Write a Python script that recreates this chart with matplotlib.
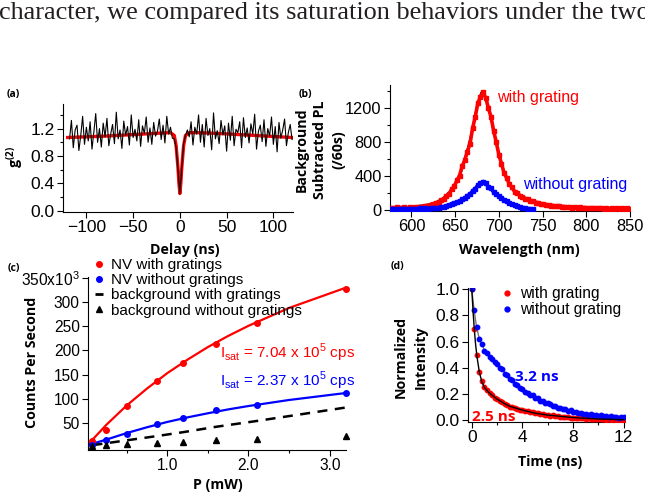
import numpy as np
import matplotlib
matplotlib.use("Agg")
import matplotlib.pyplot as plt
from matplotlib.lines import Line2D

# ---------- (a) g2 ----------
delay = np.arange(-118, 121, 2)
g2_left = [1.05, 1.32, 0.92, 1.18, 1.25, 0.88, 1.10, 1.38, 0.97, 1.22,
           1.02, 1.30, 0.90, 1.15, 1.42, 1.00, 1.20, 0.93, 1.28, 1.08,
           1.35, 0.95, 1.12, 1.26, 0.98, 1.44, 1.05, 1.18, 0.91, 1.31,
           1.10, 1.23, 0.96, 1.40, 1.07, 1.19, 1.02, 1.33, 0.94, 1.24,
           1.13, 1.37, 1.00, 1.21, 0.97, 1.29, 1.09, 1.16, 1.34, 1.04,
           1.25, 0.99, 1.38, 1.12, 1.22, 1.06]
g2_mid = [1.05, 0.92, 0.60, 0.25, 0.62, 0.98, 1.10]
g2_right = [1.18, 1.08, 1.30, 0.96, 1.22, 1.12, 1.40, 1.00, 1.26, 0.93,
            1.35, 1.10, 1.20, 0.89, 1.43, 1.05, 1.17, 0.98, 1.32, 1.11,
            1.24, 0.87, 1.28, 1.03, 1.38, 0.95, 1.19, 1.14, 1.30, 0.92,
            1.36, 1.07, 1.21, 0.99, 1.27, 1.12, 1.41, 0.90, 1.16, 1.25,
            1.01, 1.33, 0.94, 1.20, 1.09, 1.37, 0.97, 1.23, 0.86, 1.29,
            1.06, 1.18, 1.34, 0.95, 1.14, 1.26, 1.04]
g2 = g2_left + g2_mid + g2_right

fit_delay = [-120, -100, -80, -60, -40, -20, -10, -6, -4, -2, -1, 0,
             1, 2, 4, 6, 10, 20, 40, 60, 80, 100, 120]
fit_g2 = [1.07, 1.08, 1.09, 1.105, 1.12, 1.135, 1.14, 1.10, 0.95, 0.62, 0.40, 0.25,
          0.40, 0.62, 0.95, 1.10, 1.14, 1.14, 1.13, 1.115, 1.10, 1.085, 1.07]

# ---------- (b) spectra ----------
wl_red = np.arange(577, 851, 3)
pl_red = [28, 22, 31, 19, 27, 33, 21, 30, 26, 35,
          30, 41, 40, 52, 50, 64, 69, 86, 93, 118,
          130, 162, 190, 245, 280, 350, 405, 515, 588, 690,
          780, 965, 1100, 1262, 1335, 1392, 1322, 1205, 1100, 936,
          802, 652, 548, 436, 376, 304, 266, 216, 199, 168,
          156, 131, 126, 106, 103, 88, 86, 71, 72, 60,
          59, 49, 51, 42, 45, 36, 40, 32, 36, 28,
          33, 26, 31, 24, 29, 22, 27, 20, 25, 18,
          24, 17, 22, 16, 21, 15, 20, 14, 19, 13,
          18, 14]
wl_blue = np.arange(577, 740, 3)
pl_blue = [15, 9, 14, 8, 13, 16, 10, 15, 11, 17,
           13, 18, 14, 20, 16, 22, 19, 26, 24, 35,
           38, 51, 55, 74, 79, 97, 102, 124, 140, 170,
           185, 226, 250, 296, 318, 336, 315, 276, 254, 211,
           192, 160, 147, 118, 106, 82, 73, 53, 47, 33,
           29, 18, 16, 9, 10]
wl_fit_red = np.arange(575, 851, 5)
pl_fit_red = [24, 26, 28, 31, 34, 38, 43, 49, 56, 65,
              80, 100, 128, 175, 222, 295, 395, 560, 740, 960,
              1220, 1385, 1330, 1140, 885, 665, 480, 360, 262, 208,
              175, 145, 122, 104, 90, 78, 70, 62, 55, 50,
              46, 42, 39, 36, 33, 31, 29, 27, 25, 24,
              23, 22, 21, 20, 19, 18]
wl_fit_blue = np.arange(595, 741, 5)
pl_fit_blue = [12, 13, 15, 17, 19, 22, 26, 31, 38, 48,
               62, 80, 103, 132, 170, 215, 268, 322, 312, 262,
               208, 163, 126, 96, 72, 53, 38, 26, 17, 11]

# ---------- (c) saturation ----------
power = [0.08, 0.25, 0.5, 0.88, 1.2, 1.6, 2.1, 3.2]
nv_grating = [12, 36, 85, 136, 175, 213, 256, 327]
nv_no_grating = [4, 14, 27, 47, 61, 76, 87, 112]
bg_grating = [4, 8, 14, 23, 31, 42, 54, 82]
bg_no_grating = [2.5, 4, 6, 8.5, 11, 15.5, 17.5, 22.5]
fit_power = [0.03, 0.1, 0.25, 0.5, 0.75, 1.0, 1.25, 1.5, 1.75, 2.0, 2.5, 3.2]
nv_grating_fit = [8, 19, 46, 86, 121, 153, 181, 207, 230, 251, 288, 330]
nv_no_grating_fit = [5, 8, 15.5, 29, 41, 52, 61.5, 70, 78, 85, 97.5, 112]

# ---------- (d) lifetime ----------
t = np.arange(0, 12.01, 0.2)
decay_blue = [1.00, 0.84, 0.71, 0.62, 0.58, 0.53, 0.515, 0.485, 0.47, 0.445,
              0.43, 0.40, 0.39, 0.355, 0.345, 0.315, 0.305, 0.275, 0.27, 0.245,
              0.24, 0.215, 0.21, 0.19, 0.19, 0.168, 0.165, 0.148, 0.147, 0.13,
              0.132, 0.125, 0.108, 0.108, 0.094, 0.095, 0.082, 0.083, 0.072, 0.073,
              0.062, 0.064, 0.054, 0.056, 0.047, 0.05, 0.041, 0.044, 0.036, 0.04,
              0.032, 0.036, 0.028, 0.032, 0.024, 0.029, 0.021, 0.026, 0.019, 0.024,
              0.02]
decay_red = [1.00, 0.70, 0.50, 0.37, 0.295, 0.255, 0.232, 0.208, 0.192, 0.172,
             0.162, 0.143, 0.135, 0.12, 0.115, 0.103, 0.099, 0.09, 0.087, 0.078,
             0.076, 0.068, 0.067, 0.06, 0.058, 0.051, 0.051, 0.045, 0.045, 0.039,
             0.039, 0.034, 0.035, 0.029, 0.03, 0.025, 0.026, 0.021, 0.022, 0.018,
             0.019, 0.015, 0.016, 0.012, 0.014, 0.01, 0.012, 0.008, 0.01, 0.006,
             0.008, 0.005, 0.007, 0.004, 0.006, 0.003, 0.005, 0.003, 0.004, 0.002,
             0.003]
fit_t = [0, 0.1, 0.2, 0.3, 0.4, 0.6, 0.8, 1.0, 1.3, 1.6, 2.0, 2.5, 3.0, 4.0, 5.0, 6.0, 8.0, 10.0, 12.0]
decay_red_fit = [1.0, 0.83, 0.69, 0.58, 0.49, 0.365, 0.29, 0.25, 0.215, 0.19,
                 0.16, 0.13, 0.105, 0.076, 0.052, 0.038, 0.019, 0.008, 0.003]
decay_blue_fit = [1.0, 0.91, 0.83, 0.76, 0.70, 0.62, 0.575, 0.535, 0.50, 0.47,
                  0.43, 0.375, 0.32, 0.24, 0.172, 0.13, 0.065, 0.034, 0.02]

RED = "#ff0000"
BLUE = "#0000ff"

plt.rcParams["font.family"] = ["Liberation Sans", "DejaVu Sans"]
plt.rcParams["font.size"] = 11
plt.rcParams["axes.linewidth"] = 0.8
plt.rcParams["mathtext.fontset"] = "custom"
plt.rcParams["mathtext.rm"] = "Liberation Sans"

LAB = dict(family="Open Sans", weight="bold", size=10.2)
PANEL = dict(family="Open Sans", weight="bold", size=7.5)

W, H = 645, 493
fig = plt.figure(figsize=(W / 100, H / 100), dpi=100)


def axes_px(l, t_, r, b):
    return fig.add_axes([l / W, 1 - b / H, (r - l) / W, (b - t_) / H])


def ftext(x, y, s, **kw):
    fig.text(x / W, 1 - y / H, s, ha=kw.pop("ha", "center"), va=kw.pop("va", "center"), **kw)


def style(ax, size):
    ax.spines["top"].set_visible(False)
    ax.spines["right"].set_visible(False)
    ax.tick_params(which="major", direction="out", length=4, width=0.8, pad=2, labelsize=size)
    ax.tick_params(which="minor", direction="out", length=2.5, width=0.8)


# top text line (cut by the right edge, as in the page scan)
fig.text(-0.001, 1 - 19 / H, "character, we compared its saturation behaviors under the two",
         family="Liberation Serif", size=18.9, color="#231f20", ha="left", va="baseline")

# (a)
ax = axes_px(63, 104, 293, 212)
style(ax, 12.5)
ax.plot(fit_delay, fit_g2, color=RED, lw=2.4, zorder=2)
ax.plot(delay, g2, color="black", lw=0.8, zorder=3)
ax.set_xlim(-125, 121)
ax.set_ylim(-0.02, 1.56)
ax.set_xticks([-100, -50, 0, 50, 100])
ax.set_yticks([0.0, 0.4, 0.8, 1.2])
ax.set_yticks([0.2, 0.6, 1.0, 1.4], minor=True)
ax.yaxis.set_major_formatter(matplotlib.ticker.FormatStrFormatter("%.1f"))
ftext(185, 250, "Delay (ns)", **LAB)
ftext(15, 157, r"g$^\mathregular{(2)}$", rotation=90, **LAB)
ftext(13, 95, "(a)", **PANEL)

# (b)
ax = axes_px(390, 85, 630, 211)
style(ax, 11.8)
ax.plot(wl_fit_red, pl_fit_red, color="black", lw=1.6, zorder=2)
ax.plot(wl_fit_blue, pl_fit_blue, color="#888888", lw=1.6, zorder=2)
ax.plot(wl_red, pl_red, color=RED, lw=2.6, marker="s", ms=3.0, zorder=3)
ax.plot(wl_blue, pl_blue, color=BLUE, lw=2.6, marker="s", ms=3.0, zorder=4)
ax.set_xlim(575.5, 850)
ax.set_ylim(-12, 1475)
ax.set_xticks([600, 650, 700, 750, 800, 850])
ax.set_yticks([0, 400, 800, 1200])
ax.set_yticks([200, 600, 1000, 1400], minor=True)
ax.text(697.5, 1333, "with grating", color=RED, size=11.5, ha="left", va="center")
ax.text(728, 295, "without grating", color=BLUE, size=11.5, ha="left", va="center")
ftext(519, 250, "Wavelength (nm)", **LAB)
ftext(320, 150, "Background\nSubtracted PL\n(/60s)", rotation=90, linespacing=1.4, **LAB)
ftext(305, 95, "(b)", **PANEL)

# (c)
ax = axes_px(88, 277, 346, 450)
style(ax, 11.2)
ax.plot(fit_power, nv_grating_fit, color=RED, lw=1.6, zorder=2)
ax.plot(fit_power, nv_no_grating_fit, color=BLUE, lw=1.6, zorder=2)
ax.plot(power, bg_grating, color="black", lw=1.8, ls=(0, (4, 3)), zorder=2)
ax.plot(power, nv_grating, "o", color=RED, ms=4, zorder=3, clip_on=False)
ax.plot(power, nv_no_grating, "o", color=BLUE, ms=4, zorder=3, clip_on=False)
ax.plot(power, bg_no_grating, "^", color="black", ms=4.5, zorder=3, clip_on=False)
ax.set_xlim(0.025, 3.2)
ax.set_ylim(-6, 352)
ax.set_xticks([1.0, 2.0, 3.0])
ax.set_xticks([0.5, 1.5, 2.5], minor=True)
ax.xaxis.set_major_formatter(matplotlib.ticker.FormatStrFormatter("%.1f"))
ax.set_yticks([50, 100, 150, 200, 250, 300, 350])
ax.set_yticklabels(["50", "100", "150", "200", "250", "300", r"350x10$^\mathregular{3}$"])
ax.text(1.65, 196, r"I$_\mathregular{sat}$ = 7.04 x 10$^\mathregular{5}$ cps", color=RED,
        size=11, ha="left", va="center")
ax.text(1.65, 138, r"I$_\mathregular{sat}$ = 2.37 x 10$^\mathregular{5}$ cps", color=BLUE,
        size=11, ha="left", va="center")
handles = [Line2D([], [], ls="none", marker="o", ms=4, color=RED),
           Line2D([], [], ls="none", marker="o", ms=4, color=BLUE),
           Line2D([], [], ls="none", marker="_", ms=6, mew=2, color="black"),
           Line2D([], [], ls="none", marker="^", ms=4.5, color="black")]
labels = ["NV with gratings", "NV without gratings",
          "background with gratings", "background without gratings"]
fig.legend(handles, labels, loc="upper left", bbox_to_anchor=(94 / W, 1 - 258 / H),
           frameon=False, fontsize=11, handlelength=0.7, handletextpad=0.4,
           labelspacing=0.08, borderpad=0, borderaxespad=0)
ftext(218, 485, "P (mW)", **LAB)
ftext(32, 362, "Counts Per Second", rotation=90, **LAB)
ftext(14, 268, "(c)", **PANEL)

# (d)
ax = axes_px(468, 288, 625, 422)
style(ax, 12.5)
ax.plot(t, decay_red, "o", color=RED, ms=3.2, zorder=3)
ax.plot(t, decay_blue, "o", color=BLUE, ms=3.2, zorder=3)
ax.plot(fit_t, decay_red_fit, color="black", lw=1.0, zorder=4)
ax.plot(fit_t, decay_blue_fit, color="#777777", lw=1.0, zorder=2)
ax.set_xlim(-0.3, 12.1)
ax.set_ylim(-0.015, 1.01)
ax.set_xticks([0, 4, 8, 12])
ax.set_xticks([2, 6, 10], minor=True)
ax.set_yticks([0.0, 0.2, 0.4, 0.6, 0.8, 1.0])
ax.yaxis.set_major_formatter(matplotlib.ticker.FormatStrFormatter("%.1f"))
ax.text(5.17, 0.33, "3.2 ns", color=BLUE, ha="center", va="center",
        family="Open Sans", weight="bold", size=11)
ax.text(0.0, 0.025, "2.5 ns", color=RED, ha="left", va="center",
        family="Open Sans", weight="bold", size=11)
dh = [Line2D([], [], ls="none", marker="o", ms=3.5, color=RED),
      Line2D([], [], ls="none", marker="o", ms=3.5, color=BLUE)]
fig.legend(dh, ["with grating", "without grating"], loc="upper left",
           bbox_to_anchor=(502 / W, 1 - 286 / H), frameon=False, fontsize=11.2,
           handlelength=0.7, handletextpad=0.45, labelspacing=0.08, borderpad=0, borderaxespad=0)
ftext(550, 462, "Time (ns)", **LAB)
ftext(411, 357, "Normalized\nIntensity", rotation=90, linespacing=1.5, **LAB)
ftext(397, 267, "(d)", **PANEL)

fig.savefig("out.png", dpi=100)
